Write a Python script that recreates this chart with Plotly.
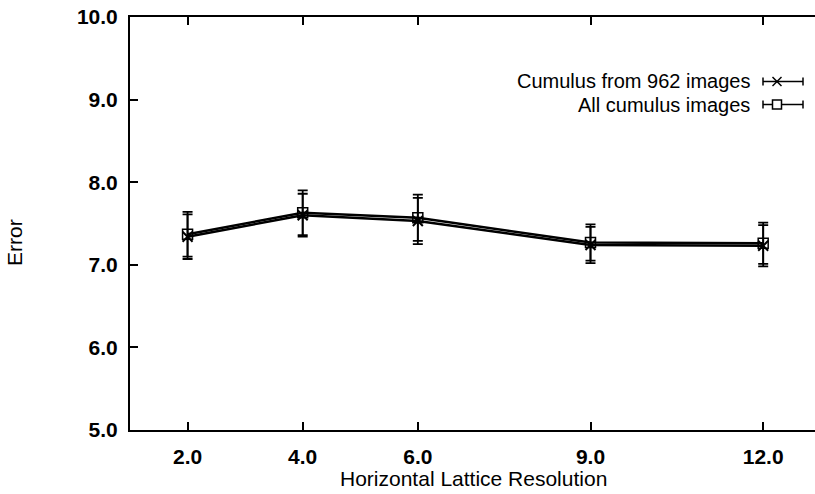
import plotly.graph_objects as go

# ---- data ----
x_res = [2.0, 4.0, 6.0, 9.0, 12.0]
err_962 = [7.34, 7.60, 7.53, 7.24, 7.23]
sd_962 = [0.27, 0.26, 0.28, 0.22, 0.25]
err_all = [7.37, 7.63, 7.57, 7.27, 7.26]
sd_all = [0.27, 0.27, 0.28, 0.22, 0.25]
x_ticks = [2.0, 4.0, 6.0, 9.0, 12.0]
x_tick_labels = ["2.0", "4.0", "6.0", "9.0", "12.0"]
y_ticks = [5.0, 6.0, 7.0, 8.0, 9.0, 10.0]
y_tick_labels = ["5.0", "6.0", "7.0", "8.0", "9.0", "10.0"]
legend_names = ["Cumulus from 962 images", "All cumulus images"]

FONT = "Liberation Sans, Arial, Helvetica, sans-serif"
W, H = 815, 494
L, T, B, R = 130, 17, 64, 0
pw, ph = W - L - R, H - T - B

def px(xp):
    return (xp - L) / pw

def py(yp):
    return (H - B - yp) / ph

fig = go.Figure()
fig.add_trace(go.Scatter(
    x=x_res, y=err_962, mode="lines+markers", name=legend_names[0],
    line=dict(color="black", width=2.5),
    marker=dict(symbol="x-thin", size=10, line=dict(color="black", width=2), color="black"),
    error_y=dict(type="data", array=sd_962, color="black", thickness=1.8, width=5),
    showlegend=False,
))
fig.add_trace(go.Scatter(
    x=x_res, y=err_all, mode="lines+markers", name=legend_names[1],
    line=dict(color="black", width=2.5),
    marker=dict(symbol="square-open", size=10, line=dict(color="black", width=1.5), color="black"),
    error_y=dict(type="data", array=sd_all, color="black", thickness=1.8, width=5),
    showlegend=False,
))

# legend (text left of the key, as in the reference)
shapes = []
annotations = []
key_y = [81.5, 104.5]
for i, name in enumerate(legend_names):
    yy = py(key_y[i])
    annotations.append(dict(
        xref="paper", yref="paper", x=px(751), y=yy, xanchor="right", yanchor="middle",
        text=name, showarrow=False, borderpad=0,
        font=dict(family=FONT, size=20, color="black"),
    ))
    x0, x1 = px(763), px(803)
    cap = 4 / ph
    shapes.append(dict(type="line", xref="paper", yref="paper", x0=x0, x1=x1, y0=yy, y1=yy,
                       line=dict(color="black", width=1.5)))
    for xc in (x0, x1):
        shapes.append(dict(type="line", xref="paper", yref="paper", x0=xc, x1=xc,
                           y0=yy - cap, y1=yy + cap, line=dict(color="black", width=1.5)))
    mx = px(777)
    d = 4.5 / pw
    dy = 4.5 / ph
    if i == 0:
        shapes.append(dict(type="line", xref="paper", yref="paper", x0=mx - d, x1=mx + d,
                           y0=yy - dy, y1=yy + dy, line=dict(color="black", width=1.5)))
        shapes.append(dict(type="line", xref="paper", yref="paper", x0=mx - d, x1=mx + d,
                           y0=yy + dy, y1=yy - dy, line=dict(color="black", width=1.5)))
    else:
        shapes.append(dict(type="rect", xref="paper", yref="paper", x0=mx - d, x1=mx + d,
                           y0=yy - dy, y1=yy + dy, line=dict(color="black", width=1.5),
                           fillcolor="white"))

# axis titles
annotations.append(dict(
    xref="paper", yref="paper", x=px(473), y=py(479), xanchor="center", yanchor="middle",
    text="Horizontal Lattice Resolution", showarrow=False,
    font=dict(family=FONT, size=21, color="black"),
))
annotations.append(dict(
    xref="paper", yref="paper", x=px(15), y=py(243), xanchor="center", yanchor="middle",
    text="Error", textangle=-90, showarrow=False,
    font=dict(family=FONT, size=21, color="black"),
))

fig.update_layout(
    width=W, height=H,
    margin=dict(l=L, r=R, t=T, b=B, pad=0),
    paper_bgcolor="white", plot_bgcolor="white",
    showlegend=False,
    shapes=shapes, annotations=annotations,
    xaxis=dict(
        range=[1.0, 12.9], tickmode="array", tickvals=x_ticks, ticktext=x_tick_labels,
        ticks="inside", ticklen=8, tickwidth=2, tickcolor="black",
        showline=True, linecolor="black", linewidth=2, mirror="ticks",
        showgrid=False, zeroline=False,
        tickfont=dict(family=FONT, size=21, color="black", weight="bold"),
        ticklabelstandoff=7,
    ),
    yaxis=dict(
        range=[5.0, 10.0], tickmode="array", tickvals=y_ticks, ticktext=y_tick_labels,
        ticks="inside", ticklen=8, tickwidth=2, tickcolor="black",
        showline=True, linecolor="black", linewidth=2, mirror=False,
        showgrid=False, zeroline=False,
        tickfont=dict(family=FONT, size=21, color="black", weight="bold"),
        ticklabelstandoff=6,
    ),
    yaxis2=dict(
        overlaying="y", side="right", matches="y", anchor="x",
        range=[5.0, 10.0], tickmode="array", tickvals=y_ticks,
        ticks="inside", ticklen=4, tickwidth=2, tickcolor="black",
        showticklabels=False, showline=False, showgrid=False, zeroline=False,
    ),
)

fig.write_html("out.html")
